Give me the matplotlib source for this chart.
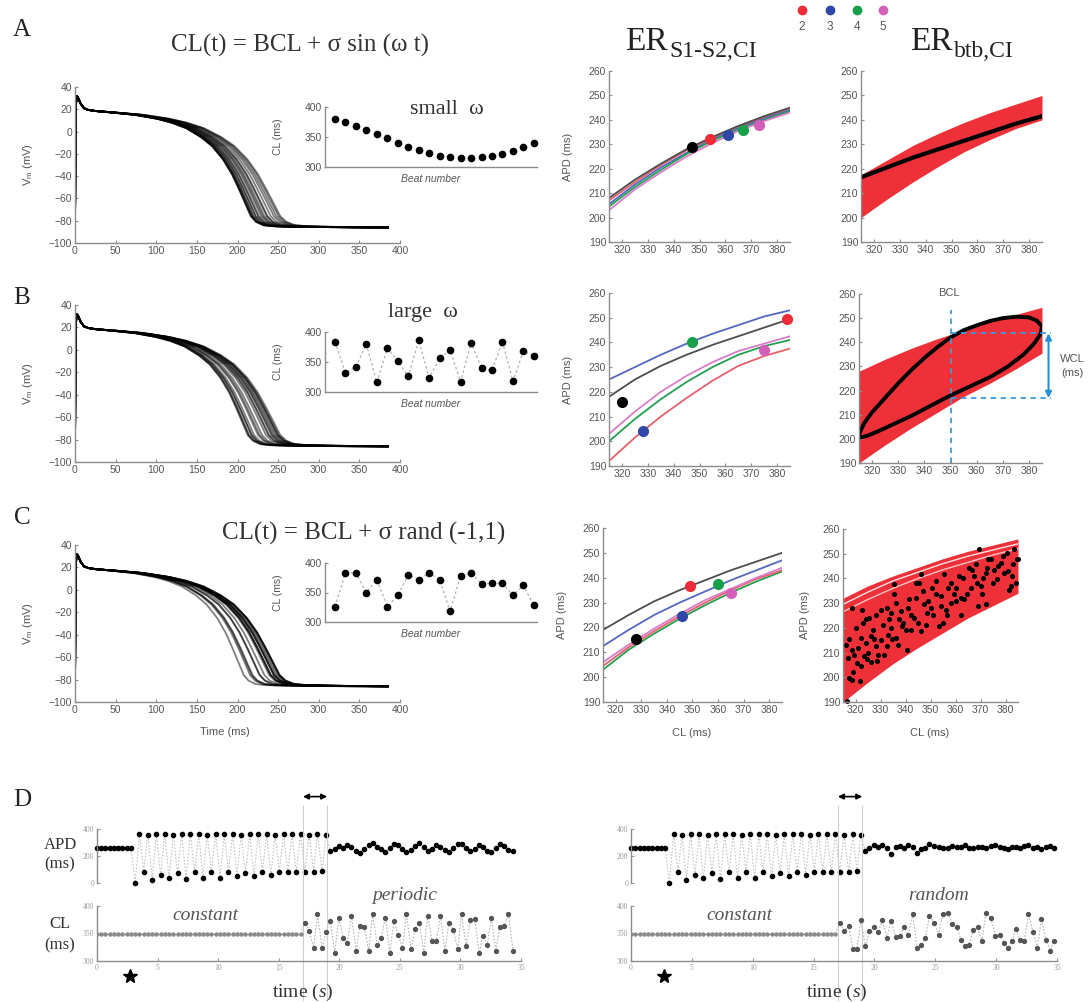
import numpy as np
import matplotlib.pyplot as plt
from matplotlib.transforms import blended_transform_factory

W, H = 1088, 1002

# ---------------- data ----------------

# action potential template (time ms, Vm mV) for a beat with APD ~243 ms
tmpl_t = np.array([0, 0.8, 2, 4, 7, 11, 16, 25, 50, 80, 110, 130, 150, 170, 185,
                   200, 212, 222, 230, 238, 245, 255, 270, 300, 385])
tmpl_v = np.array([-86, 20, 32, 30, 25, 21, 19.5, 18.5, 17, 15, 11.5, 8, 3, -5, -13,
                   -25, -38, -52, -64, -76, -81, -84, -85, -85.5, -86])
tmpl_apd = 243

apd_a = [258, 256, 253, 250, 246, 242, 238, 234, 230, 227, 224, 222, 221, 221, 222,
         224, 227, 231, 236, 241]
apd_b = [255, 222, 232, 252, 218, 250, 240, 225, 258, 222, 243, 248, 217, 254, 235,
         230, 256, 219, 247, 244]
apd_c = [222, 257, 256, 238, 250, 220, 232, 254, 250, 257, 250, 212, 252, 257, 246,
         246, 246, 232, 244, 223]

# inset CL sequences (ms)
cl_small = [380, 375, 368, 362, 355, 348, 340, 333, 328, 323, 318, 316, 315, 315, 316,
            318, 322, 327, 333, 340]
cl_large = [384, 332, 342, 380, 316, 373, 352, 326, 386, 324, 356, 370, 317, 382, 340,
            336, 384, 318, 368, 360]
cl_rand = [326, 383, 383, 350, 372, 326, 345, 380, 372, 383, 372, 318, 378, 383, 365,
           366, 366, 345, 362, 328]

# restitution curves
cl_grid = [315, 325, 335, 345, 355, 365, 375, 385]
rest_a = {
    'red':   [207, 214.5, 221.5, 227.5, 232.5, 237, 241, 244.5],
    'blue':  [205.5, 213.5, 220.5, 226.5, 232, 236.5, 240.5, 244],
    'green': [204.5, 212.5, 219.5, 226, 231.5, 236, 240, 243.5],
    'pink':  [203, 211.5, 218.5, 225, 230.5, 235.5, 239.5, 243],
    'black': [208, 215.5, 222, 228, 233, 237.5, 241.5, 245],
}
rest_b = {
    'red':   [192, 201.5, 210, 217.5, 224.5, 230.5, 234.5, 237.5],
    'green': [200, 209, 217, 224, 230, 235, 238.5, 241],
    'pink':  [203, 212, 220, 226.5, 232, 236.5, 239.5, 242.5],
    'black': [218, 225, 230.5, 235, 239, 242.5, 246, 249.5],
    'blue':  [225, 230, 235, 239.5, 243.5, 247, 250.5, 253],
}
rest_c = {
    'green': [203, 211, 217.5, 223.5, 229, 234, 238.5, 242.5],
    'red':   [204.5, 212, 218.5, 224.5, 230, 235, 239.5, 243],
    'pink':  [206, 213, 219.5, 225.5, 231, 235.5, 240, 244],
    'blue':  [212.5, 219, 225, 230, 234.5, 239, 243, 247],
    'black': [219, 225, 230.5, 235, 239, 243, 246.5, 250],
}
# S1-S2 points: colour -> (CL, APD)
pts_a = {'black': (347, 229), 'red': (354, 232), 'blue': (361, 234),
         'green': (367, 236), 'pink': (373, 238)}
pts_b = {'black': (320, 216), 'blue': (328, 204), 'green': (347, 240),
         'pink': (375, 237), 'red': (384, 249.5)}
pts_c = {'black': (328, 215.5), 'blue': (346, 224.5), 'red': (349, 236.5),
         'green': (360, 237.5), 'pink': (365, 234)}

# beat-to-beat restitution bands
band_a_hi = [217.5, 223.5, 229.5, 234.5, 239, 243, 246.5, 250]
band_a_lo = [200, 207.5, 214.5, 221, 227, 232, 236.5, 240]
btb_a = [216.5, 220.5, 224.5, 228, 231.5, 235, 238.5, 241.5]

band_b_hi = [228, 233, 237.5, 241.5, 245, 248.5, 251.5, 254.5]
band_b_lo = [190, 197.5, 204.5, 211, 217.5, 223, 229, 235.5]
loop_b = [(315, 202), (317, 206.5), (320, 211), (325, 217), (330, 223), (335, 228.5),
          (340, 233.5), (345, 238), (350, 242), (355, 245), (360, 247), (365, 248.8),
          (370, 250), (375, 250.6), (380, 250.3), (383, 249), (385, 246.5),
          (384.5, 243.5), (382, 239.5), (378, 235), (372, 230), (365, 225.5),
          (358, 222), (350, 218), (342, 213.5), (335, 209.5), (328, 206), (322, 203),
          (318, 201.2), (315.5, 200.6), (315, 202)]
bcl = 350
wcl_top, wcl_bot = 243.7, 216.9

band_c_hi = [232, 237, 241, 244.5, 248, 251, 253.5, 256]
band_c_lo = [190, 198, 205.5, 212, 218, 224, 229, 234]
gap_c1 = [229.5, 234.5, 239, 242.5, 246, 249, 251.5, 254]
gap_c2 = [226.5, 231.5, 236, 240, 243.5, 246.5, 249.5, 252]
scatter_c = [
    (316.4, 190.3), (318.7, 228.0), (322.7, 227.4), (317.3, 215.3), (318.7, 211.2),
    (319.3, 209.2), (320.7, 205.8), (322.0, 204.5), (317.3, 199.7), (318.7, 199.0),
    (321.7, 198.4), (324.0, 223.4), (325.3, 224.0), (326.0, 216.6), (327.3, 215.3),
    (328.0, 212.6), (328.7, 206.5), (323.3, 208.5), (324.7, 207.2), (330.0, 227.4),
    (332.7, 228.1), (333.3, 223.4), (334.0, 220.0), (334.7, 215.3), (332.7, 212.6),
    (331.3, 209.2), (335.3, 237.6), (335.3, 233.5), (337.3, 223.4), (338.7, 220.7),
    (340.0, 219.3), (340.7, 211.2), (341.3, 231.5), (342.0, 225.4), (343.3, 224.0),
    (344.0, 238.2), (345.3, 238.2), (346.0, 241.6), (346.0, 218.6), (347.3, 229.5),
    (348.7, 226.0), (350.0, 228.1), (350.7, 236.2), (352.0, 233.5), (353.3, 220.7),
    (354.0, 232.8), (355.3, 241.6), (356.0, 227.4), (356.7, 225.4), (358.0, 238.2),
    (359.3, 233.5), (360.0, 230.8), (361.3, 240.9), (362.0, 232.2), (363.3, 231.5),
    (364.7, 233.5), (365.3, 244.3), (367.3, 240.9), (368.7, 238.2), (369.3, 251.8),
    (370.0, 236.9), (370.7, 233.5), (372.0, 229.5), (372.7, 244.3), (374.0, 247.7),
    (375.3, 243.6), (376.7, 239.6), (378.0, 246.4), (379.3, 242.3), (380.7, 250.4),
    (381.3, 235.5), (382.7, 240.9), (383.3, 251.8), (384.7, 247.7), (382.0, 236.9),
    (372.0, 242.3), (366.7, 243.6), (316, 213), (317, 208), (319, 202), (320, 220),
    (321, 212), (322, 216), (323, 222), (324, 214), (325, 210), (326, 206), (327, 219),
    (328, 225), (329, 209), (330, 215), (331, 221), (333, 217), (334, 226), (336, 230),
    (337, 213), (338, 227), (339, 222), (341, 228), (342, 219), (344, 232), (345, 222),
    (347, 235), (349, 231), (351, 225), (352, 239), (354, 229), (357, 236), (358, 230),
    (360, 236), (363, 240), (366, 236), (368, 246), (371, 240), (373, 248), (375, 238),
    (377, 245), (379, 249), (381, 243), (383, 246), (384, 238), (385, 248), (369, 229),
    (362, 225), (355, 222), (348, 221), (336, 216)]

# panel D: pacing protocol (ms)
cl_base, n_const = 350, 49
cl_periodic = [370, 355, 324, 385, 324, 352, 373, 315, 379, 342, 333, 382, 318, 364,
               362, 318, 385, 330, 342, 379, 315, 373, 348, 324, 385, 321, 358, 370,
               315, 382, 336, 336, 382, 318, 370, 356, 321, 385, 327, 374, 376, 315,
               345, 330, 379, 318, 361, 364, 385, 318]
cl_random = [370, 355, 364, 321, 322, 374, 327, 355, 361, 352, 374, 342, 373, 344,
             345, 361, 348, 385, 324, 330, 342, 382, 370, 348, 385, 388, 367, 361,
             339, 327, 330, 356, 361, 336, 388, 379, 345, 348, 333, 324, 336, 358,
             338, 336, 385, 352, 324, 376, 339, 319, 336]
apd_start = [260] * 9
apd_low = [0, 85, 25, 60, 35, 75, 30, 85, 35, 85, 40, 85, 50, 75, 55, 85, 60, 85, 80,
           85, 85, 85, 88]
apd_high = [362, 358, 360, 362, 359, 361, 360, 362, 358, 361, 360, 362, 359, 361, 360,
            362, 359, 361, 360, 362, 358, 361, 356]
apd_after_periodic = [240, 255, 275, 262, 285, 268, 240, 225, 252, 280, 295, 270, 250,
                      232, 262, 288, 278, 252, 228, 248, 272, 296, 265, 238, 255, 282,
                      270, 245, 226, 258, 286, 292, 262, 236, 250, 278, 268, 240, 230,
                      262, 290, 275, 248, 235]
apd_after_random = [240, 262, 278, 270, 285, 258, 215, 268, 275, 262, 280, 270, 222,
                    255, 262, 288, 272, 270, 262, 258, 275, 268, 270, 280, 262, 258,
                    270, 265, 258, 272, 282, 268, 262, 255, 266, 270, 262, 275, 285,
                    258, 270, 250, 268, 275, 262]
t_switch, t_settle = 17.0, 19.0

# ---------------- styling ----------------
plt.rcParams['font.family'] = ['Liberation Sans', 'DejaVu Sans']
plt.rcParams['mathtext.fontset'] = 'custom'
plt.rcParams['mathtext.rm'] = 'Liberation Sans'
plt.rcParams['mathtext.it'] = 'Liberation Serif:italic'

SERIF = ['Liberation Serif', 'DejaVu Serif']
SPINE = '#8c8c8c'
TXT = '#555555'
RED_FILL = '#ee3139'
dot_col = {'black': 'black', 'red': '#ee2b36', 'blue': '#2f47a8',
           'green': '#17a04a', 'pink': '#d35fb8'}
line_col = {'black': '#4d4d4d', 'red': '#e8606a', 'blue': '#5567c4',
            'green': '#22a050', 'pink': '#da7cc9'}

fig = plt.figure(figsize=(W / 100, H / 100), dpi=100)


def add_ax(x0, y0, x1, y1):
    ax = fig.add_axes([x0 / W, 1 - y1 / H, (x1 - x0) / W, (y1 - y0) / H])
    ax.spines[['top', 'right']].set_visible(False)
    ax.spines[['left', 'bottom']].set_color(SPINE)
    ax.spines[['left', 'bottom']].set_linewidth(1.0)
    ax.tick_params(direction='in', length=2.5, width=0.8, color=SPINE,
                   labelcolor=TXT, labelsize=7.5, pad=2)
    ax.patch.set_alpha(0)
    return ax


def ftext(x, y, s, **kw):
    kw.setdefault('ha', 'center')
    kw.setdefault('va', 'center')
    fig.text(x / W, 1 - y / H, s, **kw)


def ap_panel(box, apds):
    ax = add_ax(*box)
    for apd in apds:
        s = (apd - 16) / (tmpl_apd - 16)
        t = np.where(tmpl_t > 16, 16 + (tmpl_t - 16) * s, tmpl_t)
        keep = t < 385
        t = np.append(t[keep], 385)
        v = np.append(tmpl_v[keep], tmpl_v[-1])
        ax.plot(t, v, color='black', alpha=0.5, lw=1.3)
    ax.set_xlim(0, 400)
    ax.set_ylim(-100, 40)
    ax.set_xticks(range(0, 401, 50))
    ax.set_yticks(range(-100, 41, 20))
    ftext(28, (box[1] + box[3]) / 2, 'V$_{\\mathrm{m}}$ (mV)', rotation=90,
          color=TXT, fontsize=8)
    return ax


def cl_inset(box, vals, dotted):
    ax = add_ax(*box)
    beats = np.arange(len(vals))
    if dotted:
        ax.plot(beats, vals, ls=(0, (2, 2)), color='#b0b0b0', lw=0.9)
    ax.plot(beats, vals, 'o', color='black', ms=4.5, ls='none', clip_on=False)
    ax.set_ylim(300, 400)
    ax.set_xlim(-0.95, len(vals) - 0.7)
    ax.set_yticks([300, 350, 400])
    ax.set_xticks([])
    ftext(278, (box[1] + box[3]) / 2, 'CL (ms)', rotation=90, color=TXT, fontsize=7.5)
    ftext(431, box[3] + 12, 'Beat number', color=TXT, fontsize=7.5, style='italic')
    return ax


def rest_axes(box):
    ax = add_ax(*box)
    ax.set_xlim(315, 385)
    ax.set_ylim(190, 260)
    ax.set_xticks(range(320, 381, 10))
    ax.set_yticks(range(190, 261, 10))
    return ax


def s1s2_panel(box, curves, pts):
    ax = rest_axes(box)
    for name, ys in curves.items():
        ax.plot(cl_grid, ys, color=line_col[name], lw=1.3)
    for name, (x, y) in pts.items():
        ax.plot(x, y, 'o', color=dot_col[name], ms=7, clip_on=False)
    ftext(box[0] - 41, (box[1] + box[3]) / 2, 'APD (ms)', rotation=90,
          color=TXT, fontsize=8)
    return ax


def er_title(x_split, y_base, sub):
    ftext(x_split, y_base, 'ER', ha='right', va='baseline', family=SERIF,
          fontsize=24, color='#222222')
    ftext(x_split + 1, y_base + 7, sub, ha='left', va='baseline', family=SERIF,
          fontsize=17, color='#222222')


# ---------------- panel letters and titles ----------------
for letter, y in zip('ABCD', [30, 298, 518, 800]):
    ftext(22, y, letter, family=SERIF, fontsize=18, color='#222222')

ftext(300, 45, 'CL(t) = BCL + σ sin (ω t)', family=SERIF, fontsize=18, color='#333333')
ftext(364, 533, 'CL(t) = BCL + σ rand (-1,1)', family=SERIF, fontsize=18,
      color='#333333')
ftext(447, 110, 'small  ω', family=SERIF, fontsize=16, color='#333333')
ftext(423, 312, 'large  ω', family=SERIF, fontsize=16, color='#333333')

er_title(668, 50, 'S1-S2,CI')
er_title(953, 50, 'btb,CI')

for name, x, num in [('red', 802, '2'), ('blue', 830, '3'), ('green', 857, '4'),
                     ('pink', 883, '5')]:
    fig.lines.append(plt.Line2D([x / W], [1 - 10 / H], marker='o', ms=6,
                                color=dot_col[name], transform=fig.transFigure))
    ftext(x, 27, num, color=TXT, fontsize=8.5)

# ---------------- rows A-C ----------------
ap_panel((75, 87, 400, 243), apd_a)
ap_panel((75, 305, 400, 462), apd_b)
ap_panel((75, 545, 400, 702), apd_c)
ftext(225, 732, 'Time (ms)', color=TXT, fontsize=8)

cl_inset((325, 107, 537, 167), cl_small, False)
cl_inset((325, 332, 537, 392), cl_large, True)
cl_inset((325, 563, 537, 622), cl_rand, True)

s1s2_panel((609, 71, 790, 242), rest_a, pts_a)
s1s2_panel((609, 293, 790, 466), rest_b, pts_b)
s1s2_panel((603, 528, 782, 702), rest_c, pts_c)
ftext(692, 733, 'CL (ms)', color=TXT, fontsize=8)

# right column A
ax = rest_axes((861, 71, 1042, 242))
ax.fill_between(cl_grid, band_a_lo, band_a_hi, color=RED_FILL, lw=0)
ax.plot(cl_grid, btb_a, color='black', lw=3, solid_capstyle='round')

# right column B
ax = rest_axes((859, 294, 1042, 463))
ax.fill_between(cl_grid, band_b_lo, band_b_hi, color=RED_FILL, lw=0)
lx, ly = zip(*loop_b)
ax.plot(lx, ly, color='black', lw=2.8)
ax.plot([bcl, bcl], [190, 253.5], ls=(0, (3, 2.5)), color='#3d9be0', lw=1.3,
        clip_on=False)
ax.plot([bcl, 388.5], [wcl_top, wcl_top], ls=(0, (3, 2.5)), color='#3d9be0', lw=1.3,
        clip_on=False)
ax.plot([bcl, 388.5], [wcl_bot, wcl_bot], ls=(0, (3, 2.5)), color='#3d9be0', lw=1.3,
        clip_on=False)
ax.annotate('', xy=(387.5, wcl_bot), xytext=(387.5, wcl_top), annotation_clip=False,
            arrowprops=dict(arrowstyle='<|-|>', color='#2a8fd6', lw=1.5,
                            mutation_scale=9, shrinkA=0, shrinkB=0))
ftext(949, 293, 'BCL', color=TXT, fontsize=8)
ftext(1072, 359, 'WCL', color=TXT, fontsize=8)
ftext(1072, 373, '(ms)', color=TXT, fontsize=8)

# right column C
ax = rest_axes((843, 529, 1018, 702))
ax.fill_between(cl_grid, band_c_lo, band_c_hi, color=RED_FILL, lw=0)
ax.plot(cl_grid, gap_c1, color='white', lw=1.0, alpha=0.85)
ax.plot(cl_grid, gap_c2, color='white', lw=1.0, alpha=0.7)
sx, sy = zip(*scatter_c)
ax.plot(sx, sy, 'o', color='black', ms=2.6, ls='none', clip_on=False)
ftext(805, 615, 'APD (ms)', rotation=90, color=TXT, fontsize=8)
ftext(930, 733, 'CL (ms)', color=TXT, fontsize=8)


# ---------------- row D ----------------
def d_panel(x0, x1, cl_var, apd_after, word_var, x_const, x_var, x_time):
    cl_all = np.array([cl_base] * n_const + cl_var, dtype=float)
    t_beat = np.concatenate([[0], np.cumsum(cl_all)[:-1]]) / 1000
    apd_alt = np.ravel(np.column_stack([apd_low, apd_high]))
    apd_all = np.concatenate([apd_start, apd_alt, apd_after])
    n = min(len(apd_all), len(t_beat))

    ax1 = add_ax(x0, 829, x1, 883)
    ax1.plot(t_beat[:n], apd_all[:n], ls=(0, (1.5, 1.5)), color='#c4c4c4', lw=0.8)
    ax1.plot(t_beat[:n], apd_all[:n], 'o', color='black', ms=3, ls='none',
             clip_on=False)
    ax1.set_xlim(0, 35)
    ax1.set_ylim(0, 400)
    ax1.set_yticks([0, 200, 400])
    ax1.set_xticks([])
    ax1.spines['bottom'].set_visible(False)

    ax2 = add_ax(x0, 906, x1, 961)
    ax2.plot(t_beat[:n_const], cl_all[:n_const], '-o', color='#8a8a8a', ms=2.2, lw=0.8)
    ax2.plot(t_beat[n_const - 1:], cl_all[n_const - 1:], ls=(0, (1.5, 1.5)),
             color='#b5b5b5', lw=0.8)
    ax2.plot(t_beat[n_const:], cl_all[n_const:], 'o', color='#555555', ms=2.8,
             ls='none')
    ax2.set_xlim(0, 35)
    ax2.set_ylim(300, 400)
    ax2.set_yticks([300, 350, 400])
    ax2.set_xticks(range(0, 36, 5))

    for a in (ax1, ax2):
        a.tick_params(labelsize=5.5, labelcolor='#9a9a9a', color='#9a9a9a', length=2)
        for lab in a.get_xticklabels() + a.get_yticklabels():
            lab.set_family(SERIF)

    for tv in (t_switch, t_settle):
        ax1.axvline(tv, ymin=-2.17, ymax=1.43, color='#cfcfcf', lw=0.8, clip_on=False)
    ax1.annotate('', xy=(t_switch, 1.6), xytext=(t_settle, 1.6),
                 xycoords=('data', 'axes fraction'), annotation_clip=False,
                 arrowprops=dict(arrowstyle='<|-|>', color='black', lw=1.2,
                                 mutation_scale=8, shrinkA=0, shrinkB=0))
    tr = blended_transform_factory(ax2.transData, ax2.transAxes)
    ax2.plot([2.75], [-0.27], marker='*', ms=10, color='black', transform=tr,
             clip_on=False)

    ftext(x_const, 916, 'constant', family=SERIF, style='italic', fontsize=14,
          color='#555555')
    ftext(x_var, 896, word_var, family=SERIF, style='italic', fontsize=14,
          color='#555555')
    ftext(x_time, 992, 'time ($s$)', family=SERIF, fontsize=14, color='#333333')


d_panel(97, 521, cl_periodic, apd_after_periodic, 'periodic', 205, 405, 303)
d_panel(631, 1057, cl_random, apd_after_random, 'random', 739, 939, 837)

ftext(60, 845, 'APD', family=SERIF, fontsize=12, color='#333333')
ftext(60, 864, '(ms)', family=SERIF, fontsize=12, color='#333333')
ftext(60, 924, 'CL', family=SERIF, fontsize=12, color='#333333')
ftext(60, 945, '(ms)', family=SERIF, fontsize=12, color='#333333')

fig.savefig('out.png', dpi=100)
